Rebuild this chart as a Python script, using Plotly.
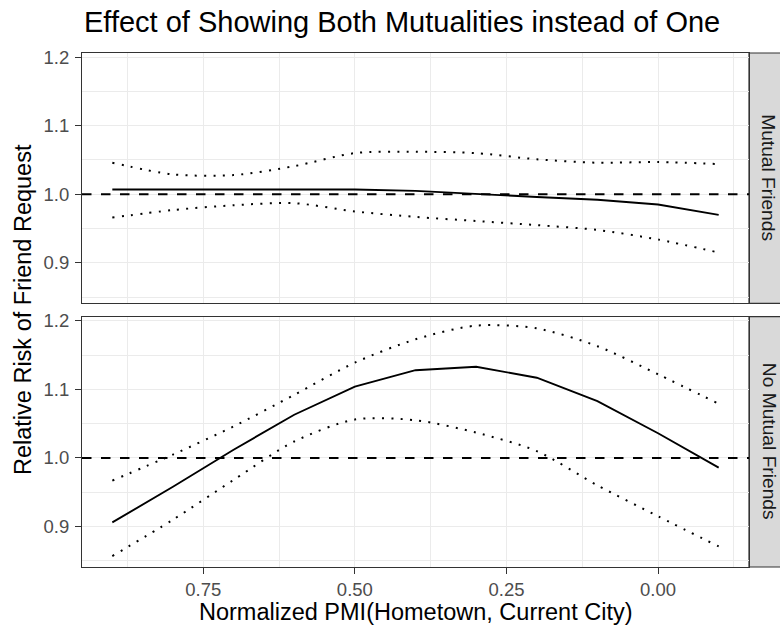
import plotly.graph_objects as go
from plotly.subplots import make_subplots

# ---- data ----
pmi = [0.9, 0.8, 0.7, 0.6, 0.5, 0.4, 0.3, 0.2, 0.1, 0.0, -0.1]

mutual_est = [1.007, 1.007, 1.007, 1.007, 1.007, 1.005, 1.000, 0.996, 0.992, 0.985, 0.970]
mutual_lo = [0.966, 0.977, 0.984, 0.987, 0.975, 0.967, 0.961, 0.955, 0.948, 0.934, 0.915]
mutual_hi = [1.046, 1.029, 1.028, 1.041, 1.060, 1.062, 1.060, 1.051, 1.046, 1.047, 1.044]

nomutual_est = [0.906, 0.958, 1.012, 1.063, 1.104, 1.128, 1.133, 1.117, 1.083, 1.036, 0.986]
nomutual_lo = [0.857, 0.910, 0.968, 1.024, 1.056, 1.055, 1.037, 1.010, 0.960, 0.915, 0.871]
nomutual_hi = [0.967, 1.005, 1.046, 1.092, 1.139, 1.173, 1.193, 1.189, 1.163, 1.122, 1.079]

facets = ["Mutual Friends", "No Mutual Friends"]
x_ticks = [0.75, 0.50, 0.25, 0.00]
y_ticks = [0.9, 1.0, 1.1, 1.2]

title = "Effect of Showing Both Mutualities instead of One"
x_title = "Normalized PMI(Hometown, Current City)"
y_title = "Relative Risk of Friend Request"

FONT = "Liberation Sans, Arial, Helvetica, sans-serif"
W, H = 780, 628
ML, MR, MT, MB = 82, 31, 53, 61
plot_w = W - ML - MR
plot_h = H - MT - MB

fig = make_subplots(rows=2, cols=1, shared_xaxes=True,
                    vertical_spacing=13.4 / plot_h)

series = [(mutual_est, mutual_lo, mutual_hi), (nomutual_est, nomutual_lo, nomutual_hi)]
for i, (est, lo, hi) in enumerate(series, start=1):
    for band in (lo, hi):
        fig.add_trace(go.Scatter(x=pmi, y=band, mode="lines",
                                 line=dict(color="black", width=2, dash="2px,7.3px",
                                           shape="spline", smoothing=0.8),
                                 showlegend=False, hoverinfo="skip"), row=i, col=1)
    fig.add_trace(go.Scatter(x=pmi, y=est, mode="lines",
                             line=dict(color="black", width=1.9),
                             showlegend=False), row=i, col=1)
    fig.add_hline(y=1.0, line=dict(color="black", width=1.9, dash="9.5px,9.5px"),
                  row=i, col=1)

axis_common = dict(showline=True, linecolor="#333333", linewidth=1.2, mirror=True,
                   showgrid=True, gridcolor="#EBEBEB", gridwidth=1.1, zeroline=False,
                   tickcolor="#333333", ticklen=6, tickwidth=1.1,
                   tickfont=dict(family=FONT, size=18.5, color="#4D4D4D"))

for r in (1, 2):
    fig.update_xaxes(range=[0.95, -0.15], tickvals=x_ticks, tickformat=".2f",
                     minor=dict(tickvals=[0.875, 0.625, 0.375, 0.125, -0.125],
                                showgrid=True, gridcolor="#EBEBEB", gridwidth=0.6, ticklen=0),
                     **axis_common, row=r, col=1)
    fig.update_yaxes(range=[0.841, 1.206], tickvals=y_ticks, tickformat=".1f",
                     minor=dict(tickvals=[0.85, 0.95, 1.05, 1.15],
                                showgrid=True, gridcolor="#EBEBEB", gridwidth=0.6, ticklen=0),
                     ticks="outside", ticklabelstandoff=2, **axis_common, row=r, col=1)
fig.update_xaxes(ticks="", showticklabels=False, row=1, col=1)
fig.update_xaxes(ticks="outside", showticklabels=True, row=2, col=1)

# strips
strip_x1 = (W + 2 - ML) / plot_w
for r, name in zip((1, 2), facets):
    yref = "y domain" if r == 1 else "y2 domain"
    fig.add_shape(type="rect", xref="paper", yref=yref, x0=1.0, x1=strip_x1, y0=0, y1=1,
                  fillcolor="#D9D9D9", line=dict(color="#333333", width=1.2), layer="below")
    fig.add_annotation(text=name, xref="paper", yref=yref,
                       x=(769 - ML) / plot_w, y=0.5, xanchor="center", yanchor="middle",
                       textangle=90, showarrow=False,
                       font=dict(family=FONT, size=19.2, color="#1A1A1A"))

# titles
fig.add_annotation(text=title, xref="paper", yref="paper", x=0, y=1 + (MT - 22) / plot_h,
                   xanchor="left", yanchor="middle", showarrow=False,
                   font=dict(family=FONT, size=29, color="black"))
fig.add_annotation(text=x_title, xref="paper", yref="paper", x=0.5, y=-(612 - (H - MB)) / plot_h,
                   xanchor="center", yanchor="middle", showarrow=False,
                   font=dict(family=FONT, size=23.5, color="black"))
fig.add_annotation(text=y_title, xref="paper", yref="paper", x=-(ML - 23) / plot_w, y=0.5,
                   xanchor="center", yanchor="middle", textangle=-90, showarrow=False,
                   font=dict(family=FONT, size=23.5, color="black"))

fig.update_layout(width=W, height=H, margin=dict(l=ML, r=MR, t=MT, b=MB),
                  plot_bgcolor="white", paper_bgcolor="white", showlegend=False,
                  font=dict(family=FONT))

fig.write_html("out.html", config={"displayModeBar": False},
               post_script="document.body.style.margin='0';")
